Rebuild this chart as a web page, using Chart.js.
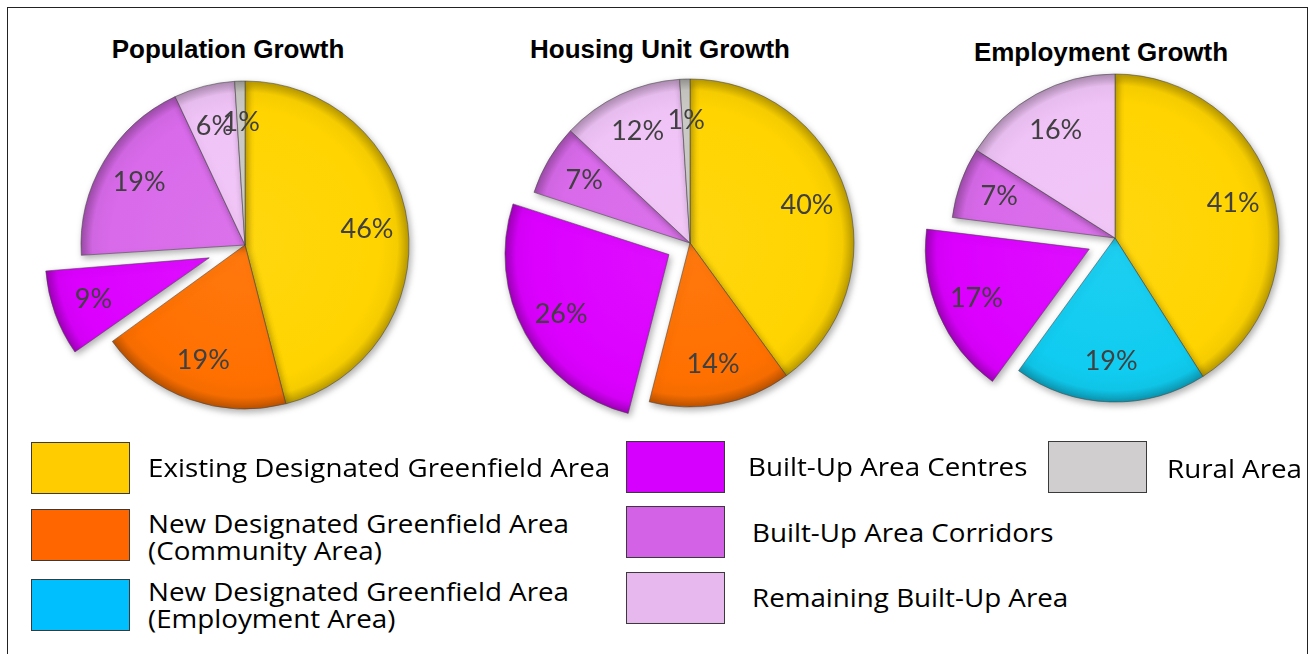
<!DOCTYPE html>
<html>
<head>
<meta charset="utf-8">
<title>Growth allocation by area</title>
<script src="https://cdn.jsdelivr.net/npm/chart.js@4.4.1/dist/chart.umd.min.js"></script>
<style>
  html, body { margin: 0; padding: 0; background: #fff; }
  body { width: 1311px; height: 654px; position: relative; overflow: hidden; font-family: "Open Sans", Lato, sans-serif; }
  .frame { position: absolute; left: 7px; top: 7px; width: 1301px; height: 700px; border: 1.5px solid #222; box-sizing: border-box; }
  .title { position: absolute; font: bold 26px "Liberation Sans", Arial, sans-serif; color: #000; transform: translate(-50%, -50%); white-space: nowrap; }
  canvas { position: absolute; }
  .sw { position: absolute; width: 99px; height: 52px; border: 1.5px solid #3a3a3a; box-sizing: border-box; }
  .lt { position: absolute; font-family: "Open Sans", sans-serif; font-size: 25px; line-height: 27px; color: #000; white-space: nowrap;
        transform-origin: 0 50%; transform: translateY(-50%) scaleX(1.11); }
</style>
</head>
<body>
<div class="frame"></div>
<div id="stage"></div>
<script>
// ---- data ----
const categories = [
  'Existing Designated Greenfield Area',
  'New Designated Greenfield Area (Community Area)',
  'New Designated Greenfield Area (Employment Area)',
  'Built-Up Area Centres',
  'Built-Up Area Corridors',
  'Remaining Built-Up Area',
  'Rural Area'
];
const chartTitles = ['Population Growth', 'Housing Unit Growth', 'Employment Growth'];
const populationGrowth = [46, 19, 0, 9, 19, 6, 1];
const housingGrowth    = [40, 14, 0, 26, 7, 12, 1];
const employmentGrowth = [41, 0, 19, 17, 7, 16, 0];
const legendLines = [
  ['Existing Designated Greenfield Area'],
  ['New Designated Greenfield Area', '(Community Area)'],
  ['New Designated Greenfield Area', '(Employment Area)'],
  ['Built-Up Area Centres'],
  ['Built-Up Area Corridors'],
  ['Remaining Built-Up Area'],
  ['Rural Area']
];

// ---- styles ----
const sliceColors  = ['#FFD400', '#FF7000', '#10CCF0', '#DC00FF', '#D96AEA', '#F0C3F7', '#CFCDC8'];
const legendColors = ['#FFCC00', '#FF6600', '#00BFFF', '#D600FF', '#D462E6', '#E6B8EE', '#D0CECE'];
const explodedIndex = 3;                 // Built-Up Area Centres is pulled out
const explodeDistance = [38, 24, 28];    // px the pulled-out slice moves, per chart
const pieRadius = 164;
const canvasSize = 440;
const pieCentres = [[245, 245], [690, 243], [1115, 238]];
const titleCentres = [[228, 49], [660, 49], [1101, 52]];
const legendLayout = [
  { sx: 31,   sy: 442, tx: 148,  ty: 467 },
  { sx: 31,   sy: 509, tx: 148,  ty: 537 },
  { sx: 31,   sy: 579, tx: 148,  ty: 605 },
  { sx: 626,  sy: 441, tx: 748,  ty: 466 },
  { sx: 626,  sy: 506, tx: 752,  ty: 532 },
  { sx: 626,  sy: 572, tx: 752,  ty: 597 },
  { sx: 1048, sy: 441, tx: 1167, ty: 468 }
];

function shade(hex, f) {
  const n = parseInt(hex.slice(1), 16);
  let r = (n >> 16) & 255, g = (n >> 8) & 255, b = n & 255;
  const t = f < 0 ? 0 : 255, p = Math.abs(f);
  r = Math.round((t - r) * p + r); g = Math.round((t - g) * p + g); b = Math.round((t - b) * p + b);
  return `rgb(${r},${g},${b})`;
}

// bevelled fill: flat face, darker rim
function sliceFill(ctx) {
  const chart = ctx.chart;
  const base = sliceColors[ctx.dataIndex];
  const area = chart.chartArea;
  if (!area) return base;
  const cx = (area.left + area.right) / 2, cy = (area.top + area.bottom) / 2;
  const g = chart.ctx.createRadialGradient(cx, cy, 0, cx, cy, pieRadius);
  g.addColorStop(0, shade(base, 0.06));
  g.addColorStop(0.82, base);
  g.addColorStop(0.93, shade(base, -0.04));
  g.addColorStop(1, shade(base, -0.28));
  return g;
}

// keeps the pulled-out slice at the same radius as the rest of the pie
const explodeRadiusFix = {
  id: 'explodeRadiusFix',
  beforeDatasetDraw(chart, args) {
    args.meta.data.forEach(arc => {
      const off = (arc.options.offset || 0) / 4;
      if (!off) return;
      const fix = 1 - Math.sin(Math.min(Math.PI, arc.circumference));
      arc.outerRadius = pieRadius - off * fix;
    });
  }
};

// soft drop shadow under the slices, then the percentage labels
const shadowAndLabels = {
  id: 'shadowAndLabels',
  beforeDatasetsDraw(chart) {
    const c = chart.ctx;
    c.save();
    c.shadowColor = 'rgba(0,0,0,0.32)';
    c.shadowBlur = 7;
    c.shadowOffsetX = 2;
    c.shadowOffsetY = 3;
  },
  afterDatasetsDraw(chart) {
    const c = chart.ctx;
    c.restore();
    const meta = chart.getDatasetMeta(0);
    const values = chart.data.datasets[0].data;
    c.save();
    c.font = '27px Lato, "Open Sans", sans-serif';
    c.fillStyle = '#404040';
    c.textAlign = 'center';
    c.textBaseline = 'middle';
    meta.data.forEach((arc, i) => {
      if (!values[i]) return;
      const mid = (arc.startAngle + arc.endAngle) / 2;
      const push = (arc.options.offset || 0) / 4;
      const r = pieRadius * 0.75 + push;
      c.fillText(values[i] + '%', arc.x + Math.cos(mid) * r, arc.y + Math.sin(mid) * r);
    });
    c.restore();
  }
};

const stage = document.getElementById('stage');
[populationGrowth, housingGrowth, employmentGrowth].forEach((values, k) => {
  const t = document.createElement('div');
  t.className = 'title';
  t.textContent = chartTitles[k];
  t.style.left = titleCentres[k][0] + 'px';
  t.style.top = titleCentres[k][1] + 'px';
  stage.appendChild(t);

  const cv = document.createElement('canvas');
  cv.width = canvasSize; cv.height = canvasSize;
  cv.style.left = (pieCentres[k][0] - canvasSize / 2) + 'px';
  cv.style.top = (pieCentres[k][1] - canvasSize / 2) + 'px';
  stage.appendChild(cv);

  new Chart(cv, {
    type: 'pie',
    data: {
      labels: categories,
      datasets: [{
        data: values,
        backgroundColor: sliceFill,
        borderColor: 'rgba(70,70,70,0.55)',
        borderWidth: 1,
        offset: categories.map((_, i) => i === explodedIndex ? explodeDistance[k] * 4 : 0)
      }]
    },
    options: {
      responsive: false,
      animation: false,
      radius: pieRadius,
      layout: { padding: 0 },
      plugins: { legend: { display: false }, tooltip: { enabled: false } }
    },
    plugins: [explodeRadiusFix, shadowAndLabels]
  });
});

// legend
legendLines.forEach((lines, i) => {
  const p = legendLayout[i];
  const sw = document.createElement('div');
  sw.className = 'sw';
  sw.style.left = p.sx + 'px';
  sw.style.top = p.sy + 'px';
  sw.style.background = legendColors[i];
  stage.appendChild(sw);
  const tx = document.createElement('div');
  tx.className = 'lt';
  tx.style.left = p.tx + 'px';
  tx.style.top = p.ty + 'px';
  tx.innerHTML = lines.map(s => s.replace(/&/g, '&amp;')).join('<br>');
  stage.appendChild(tx);
});
</script>
</body>
</html>
